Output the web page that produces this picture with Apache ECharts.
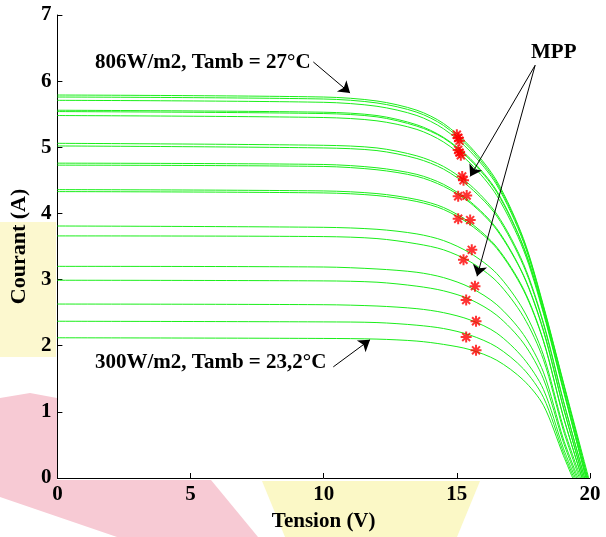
<!DOCTYPE html>
<html><head><meta charset="utf-8">
<script src="https://cdn.jsdelivr.net/npm/echarts@6/dist/echarts.min.js"></script>
<style>html,body{margin:0;padding:0;background:#fff}#c{width:606px;height:537px}</style>
</head><body><div id="c"></div>
<script>
// Voltage sample points (V) shared by all curves
const voltageGrid = [0, 10, 12, 13.5, 14.5, 15.5, 16.5, 17.5, 18.25, 19];
// Open-circuit voltage of each curve (V)
const curveVoc = [19.95, 19.9, 19.92, 19.88, 19.85, 19.85, 19.8, 19.8, 19.75, 19.75,
                  19.7, 19.7, 19.65, 19.6, 19.55, 19.5, 19.45, 19.4, 19.35];
// Current (A) of each curve at voltageGrid
const curveCurrents = [
  [5.79, 5.76, 5.70, 5.56, 5.36, 5.01, 4.49, 3.62, 2.61, 1.45],
  [5.76, 5.73, 5.67, 5.53, 5.33, 4.98, 4.46, 3.60, 2.59, 1.43],
  [5.71, 5.68, 5.62, 5.48, 5.28, 4.94, 4.43, 3.57, 2.57, 1.42],
  [5.56, 5.53, 5.48, 5.34, 5.15, 4.83, 4.34, 3.50, 2.53, 1.36],
  [5.54, 5.51, 5.46, 5.32, 5.14, 4.81, 4.32, 3.49, 2.52, 1.34],
  [5.48, 5.45, 5.40, 5.27, 5.08, 4.76, 4.27, 3.45, 2.49, 1.32],
  [5.06, 5.03, 4.99, 4.87, 4.71, 4.43, 3.99, 3.24, 2.35, 1.17],
  [5.02, 4.99, 4.95, 4.83, 4.67, 4.39, 3.96, 3.21, 2.33, 1.16],
  [4.76, 4.74, 4.69, 4.59, 4.44, 4.18, 3.77, 3.07, 2.24, 1.07],
  [4.73, 4.71, 4.66, 4.56, 4.41, 4.16, 3.75, 3.06, 2.22, 1.06],
  [4.36, 4.34, 4.30, 4.21, 4.09, 3.86, 3.49, 2.86, 2.08, 0.93],
  [4.33, 4.31, 4.27, 4.18, 4.06, 3.83, 3.47, 2.84, 2.07, 0.92],
  [3.81, 3.79, 3.76, 3.69, 3.59, 3.40, 3.09, 2.54, 1.86, 0.77],
  [3.66, 3.65, 3.62, 3.54, 3.45, 3.27, 2.97, 2.44, 1.79, 0.72],
  [3.20, 3.19, 3.16, 3.11, 3.03, 2.88, 2.62, 2.17, 1.60, 0.59],
  [2.99, 2.98, 2.96, 2.90, 2.83, 2.70, 2.46, 2.04, 1.50, 0.54],
  [2.63, 2.62, 2.60, 2.56, 2.50, 2.39, 2.19, 1.81, 1.34, 0.45],
  [2.37, 2.36, 2.35, 2.31, 2.26, 2.16, 1.98, 1.65, 1.22, 0.39],
  [2.12, 2.11, 2.10, 2.07, 2.02, 1.94, 1.78, 1.48, 1.10, 0.34]
];
// Maximum power points
const mppV = [15.0, 15.05, 15.1, 15.05, 15.1, 15.15, 15.2, 15.25, 15.37, 15.05,
              15.5, 15.05, 15.56, 15.25, 15.68, 15.35, 15.72, 15.35, 15.72];
const mppI = [5.19, 5.14, 5.10, 4.96, 4.92, 4.88, 4.56, 4.50, 4.27, 4.26,
              3.90, 3.92, 3.45, 3.30, 2.90, 2.69, 2.37, 2.13, 1.93];
const xTickLabels = ['0', '5', '10', '15', '20'];
const yTickLabels = ['0', '1', '2', '3', '4', '5', '6', '7'];
const labelTop = '806W/m2, Tamb = 27°C';
const labelBottom = '300W/m2, Tamb = 23,2°C';
const labelMpp = 'MPP';

const FONT = '"Liberation Serif","Times New Roman",serif';
const green = '#1aee1a';

const chart = echarts.init(document.getElementById('c'), null, {renderer: 'canvas'});

const series = curveCurrents.map((cur, i) => ({
  type: 'line',
  data: voltageGrid.map((v, j) => [v, cur[j]]).concat([[curveVoc[i], 0]]),
  smooth: 0.3,
  showSymbol: false,
  silent: true,
  lineStyle: {color: green, width: 1},
  z: 3
}));

const asterisk = 'path://M0,-5L0,5M-5,0L5,0M-3.6,-3.6L3.6,3.6M-3.6,3.6L3.6,-3.6';
series.push({
  type: 'scatter',
  data: mppV.map((v, i) => [v, mppI[i]]),
  symbol: asterisk,
  symbolSize: 11,
  itemStyle: {color: 'rgba(0,0,0,0)', borderColor: '#ff0000', borderWidth: 2},
  silent: true,
  z: 5,
  markLine: {
    silent: true,
    symbol: ['none', 'arrow'],
    symbolSize: 11,
    label: {show: false},
    lineStyle: {color: '#000', width: 1, type: 'solid'},
    data: [
      [{coord: [9.61, 6.29]}, {coord: [10.99, 5.82]}],
      [{coord: [17.94, 6.24]}, {coord: [15.50, 4.56]}],
      [{coord: [17.94, 6.24]}, {coord: [15.76, 3.05]}],
      [{coord: [10.36, 1.68]}, {coord: [11.74, 2.09]}]
    ]
  }
});

chart.setOption({
  animation: false,
  backgroundColor: '#fff',
  grid: {left: 57, right: 16, top: 15, bottom: 57, show: true, backgroundColor: '#fff', borderWidth: 0},
  xAxis: {
    type: 'value', min: 0, max: 20, interval: 5,
    name: 'Tension (V)', nameLocation: 'middle', nameGap: 33,
    nameTextStyle: {fontFamily: FONT, fontWeight: 'bold', fontSize: 21, color: '#000'},
    axisLine: {lineStyle: {color: '#000', width: 1}},
    axisTick: {inside: true, length: 5, lineStyle: {color: '#000'}},
    axisLabel: {fontFamily: FONT, fontWeight: 'bold', fontSize: 21, color: '#000', margin: 6,
                formatter: (v) => xTickLabels[Math.round(v / 5)]},
    splitLine: {show: false}
  },
  yAxis: {
    type: 'value', min: 0, max: 7, interval: 1,
    name: 'Courant (A)', nameLocation: 'middle', nameGap: 20, nameRotate: 90,
    nameTextStyle: {fontFamily: FONT, fontWeight: 'bold', fontSize: 22, color: '#000'},
    axisLine: {show: true, lineStyle: {color: '#000', width: 1}},
    axisTick: {show: true, inside: true, length: 5, lineStyle: {color: '#000'}},
    axisLabel: {fontFamily: FONT, fontWeight: 'bold', fontSize: 21, color: '#000', margin: 6,
                formatter: (v) => yTickLabels[v]},
    splitLine: {show: false}
  },
  graphic: [
    {type: 'polygon', z: -10, shape: {points: [[0,398],[30,393],[57,398],[57,480],[211,480],[258,537],[117,537],[0,497]]},
     style: {fill: '#f7cad4'}},
    {type: 'rect', z: -10, shape: {x: 0, y: 222, width: 56, height: 135}, style: {fill: '#fcf8cf'}},
    {type: 'polygon', z: -10, shape: {points: [[262,481],[480,481],[457,537],[285,537]]}, style: {fill: '#fbf8c6'}},
    {type: 'text', z: 50, style: {text: labelTop, x: 95, y: 63, verticalAlign: 'middle',
      font: 'bold 21px ' + FONT, fill: '#000'}},
    {type: 'text', z: 50, style: {text: labelBottom, x: 95, y: 363, verticalAlign: 'middle',
      font: 'bold 21px ' + FONT, fill: '#000'}},
    {type: 'text', z: 50, style: {text: labelMpp, x: 531, y: 53, verticalAlign: 'middle',
      font: 'bold 21px ' + FONT, fill: '#000'}}
  ],
  series: series
});
</script></body></html>
